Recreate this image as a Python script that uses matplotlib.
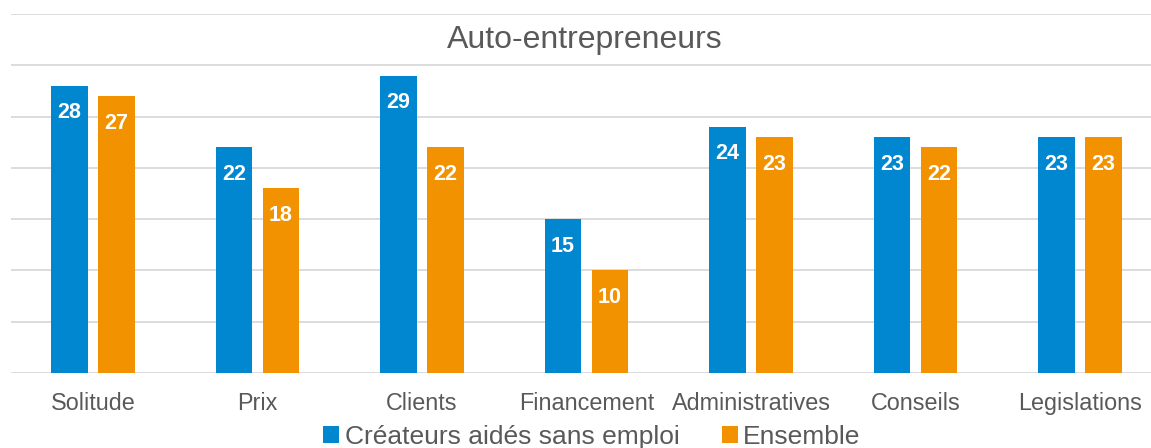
import matplotlib
matplotlib.use("Agg")
import matplotlib.pyplot as plt
import numpy as np

categories = ["Solitude", "Prix", "Clients", "Financement", "Administratives", "Conseils", "Legislations"]
series_names = ["Créateurs aidés sans emploi", "Ensemble"]
createurs = [28, 22, 29, 15, 24, 23, 23]
ensemble = [27, 18, 22, 10, 23, 22, 23]
title = "Auto-entrepreneurs"

plt.rcParams['font.family'] = ['Liberation Sans', 'DejaVu Sans']
blue = "#0087CF"
orange = "#F39200"
gray = "#595959"

W, H = 1151, 448
fig = plt.figure(figsize=(W/100, H/100), dpi=100)
ax = fig.add_axes([10.75/W, 75/H, (7*164.5)/W, (373-14)/H])

x = np.arange(len(categories))
w = 0.224
off = 0.143
b1 = ax.bar(x - off, createurs, w, color=blue, zorder=3, label=series_names[0])
b2 = ax.bar(x + off, ensemble, w, color=orange, zorder=3, label=series_names[1])

for bars, vals in ((b1, createurs), (b2, ensemble)):
    for r, v in zip(bars, vals):
        ax.annotate(str(v), (r.get_x() + r.get_width()/2, v), xytext=(0, -19.5),
                    textcoords="offset points", ha="center", va="center",
                    color="white", fontsize=15.5, fontweight="bold", zorder=4)

ax.set_xlim(-0.5, len(categories) - 0.5)
ax.set_ylim(0, 35)
ax.set_yticks(np.arange(0, 36, 5))
ax.yaxis.grid(True, color="#D9D9D9", linewidth=1.3, zorder=0)
ax.set_axisbelow(True)
ax.tick_params(axis="y", left=False, labelleft=False)
ax.tick_params(axis="x", bottom=False, pad=10.5, labelsize=16.8, labelcolor=gray)
ax.set_xticks(x)
ax.set_xticklabels(categories)
for s in ax.spines.values():
    s.set_visible(False)

fig.text(584.5/W, 1 - 40/H, title, ha="center", va="center", fontsize=23, color=gray)

fig.legend(handles=[b1, b2], labels=series_names, loc="center", bbox_to_anchor=(592/W, 1 - 437/H),
           ncol=2, frameon=False, fontsize=19, labelcolor=gray, handlelength=0.6, handleheight=0.6,
           handletextpad=0.2, columnspacing=1.62, borderpad=0)

fig.savefig("out.png", dpi=100)
